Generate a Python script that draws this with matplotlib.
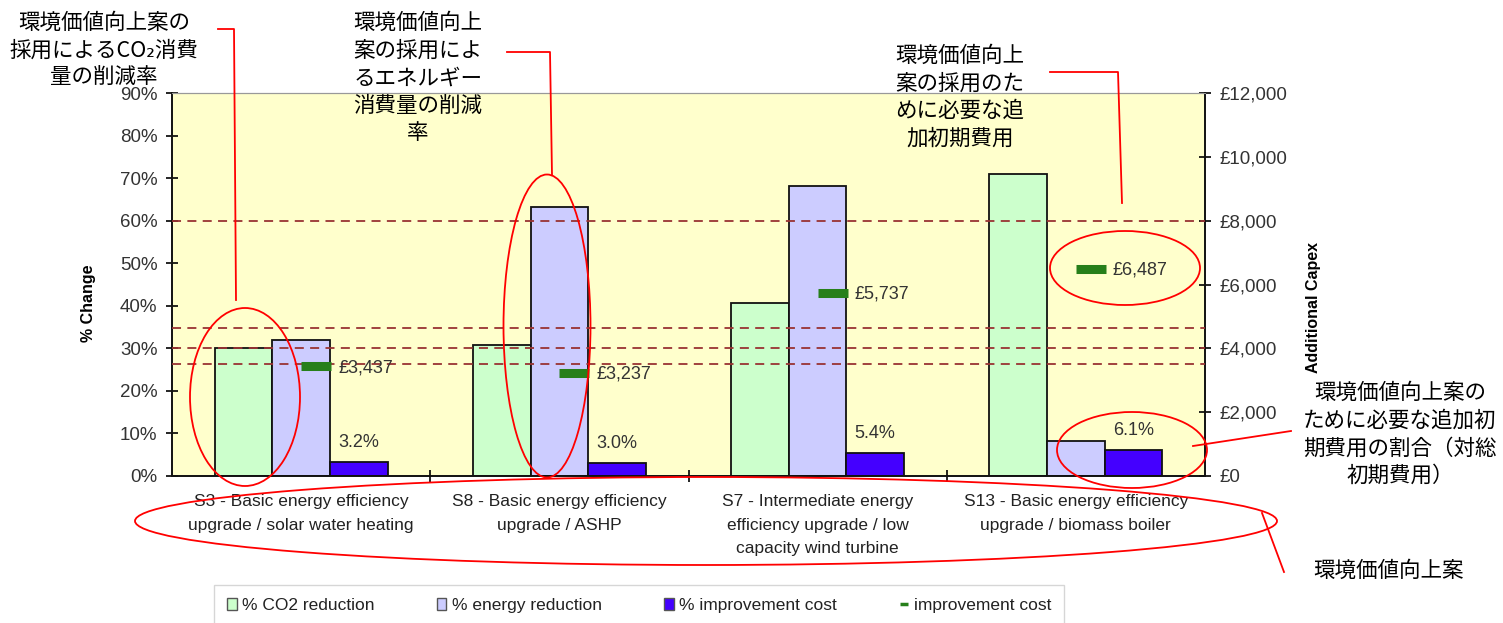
import matplotlib
matplotlib.use('Agg')
import matplotlib.pyplot as plt
from matplotlib.patches import Ellipse, Patch
from matplotlib.lines import Line2D
import numpy as np

plt.rcParams['font.family'] = ['Liberation Sans', 'Noto Sans CJK JP', 'DejaVu Sans']

categories = [
    'S3 - Basic energy efficiency\nupgrade / solar water heating',
    'S8 - Basic energy efficiency\nupgrade / ASHP',
    'S7 - Intermediate energy\nefficiency upgrade / low\ncapacity wind turbine',
    'S13 - Basic energy efficiency\nupgrade / biomass boiler',
]
co2_reduction = [30.0, 30.8, 40.6, 71.0]
energy_reduction = [32.0, 63.2, 68.1, 8.2]
cost_pct = [3.2, 3.0, 5.4, 6.1]
improvement_cost = [3437, 3237, 5737, 6487]
reference_costs = [8000, 4650, 4000, 3500]

W, H = 1503, 623
fig = plt.figure(figsize=(W / 100, H / 100), dpi=100)
ax = fig.add_axes([172 / W, 1 - 476 / H, (1205 - 172) / W, (476 - 93) / H])
ax2 = ax.twinx()

x = np.arange(len(categories))
w = 0.223
ax.set_facecolor('#FFFFCC')
ax.bar(x - w, co2_reduction, w, color='#CCFFCC', edgecolor='#111111', lw=1.3, label='% CO2 reduction')
ax.bar(x, energy_reduction, w, color='#CCCCFF', edgecolor='#111111', lw=1.3, label='% energy reduction')
ax.bar(x + w, cost_pct, w, color='#4400FF', edgecolor='#111111', lw=1.3, label='% improvement cost')

for xi, v in zip(x, cost_pct):
    ax.annotate(f'{v:.1f}%', (xi + w, v), xytext=(0, 14), textcoords='offset points',
                ha='center', va='center', fontsize=13, color='#333333')

for v in reference_costs:
    ax2.axhline(v, color='#993333', ls=(0, (5, 3.5)), lw=1.3, zorder=5)

green = '#267F1A'
ax2.plot(x + 0.058, improvement_cost, ls='none', marker='_', markersize=22, mew=6.5,
         color=green, zorder=6)
for xi, v in zip(x, improvement_cost):
    ax2.annotate(f'£{v:,}', (xi + 0.143, v), xytext=(0, -1), textcoords='offset points',
                 ha='left', va='center', fontsize=13, color='#333333', zorder=7)

ax.set_xlim(-0.5, 3.5)
ax.set_ylim(0, 90)
ax2.set_ylim(0, 12000)
ax.set_yticks(np.arange(0, 91, 10))
ax.set_yticklabels([f'{t}%' for t in range(0, 91, 10)])
ax2.set_yticks(np.arange(0, 12001, 2000))
ax2.set_yticklabels([f'£{t:,}' for t in range(0, 12001, 2000)])

ax.set_xticks(x)
ax.set_xticklabels(categories, fontsize=12.5, color='#222222', linespacing=1.72)
ax.set_xticks([0.5, 1.5, 2.5], minor=True)
ax.tick_params(axis='x', which='major', length=0, pad=13)
ax.tick_params(axis='x', which='minor', direction='inout', length=9, width=1.2)
ax.tick_params(axis='y', direction='inout', length=9, width=1.2, labelsize=13.5,
               labelcolor='#333333', pad=6)
ax2.tick_params(axis='y', direction='inout', length=9, width=1.2, labelsize=13.5,
                labelcolor='#333333', pad=6)

for a in (ax, ax2):
    a.spines['top'].set_color('#999999')
    for s in ('left', 'right', 'bottom'):
        a.spines[s].set_color('#111111')
        a.spines[s].set_linewidth(1.2)

ax.set_ylabel('% Change', fontweight='bold', fontsize=11.5)
ax.yaxis.set_label_coords(-0.0735, 0.452)
ax2.set_ylabel('Additional Capex', fontweight='bold', fontsize=11.5)
ax2.yaxis.set_label_coords(1.0975, 0.441)

handles = [
    Patch(facecolor='#CCFFCC', edgecolor='#555555'),
    Patch(facecolor='#CCCCFF', edgecolor='#555555'),
    Patch(facecolor='#4400FF', edgecolor='#555555'),
    Line2D([], [], ls='none', marker='_', markersize=6, mew=2.5, color=green),
]
labels = ['% CO2 reduction', '% energy reduction', '% improvement cost', 'improvement cost']
fig.legend(handles, labels, loc='upper left', bbox_to_anchor=(214 / W, 1 - 585 / H),
           ncol=4, fontsize=12.5, frameon=True, fancybox=False, borderaxespad=0,
           edgecolor='#cccccc', handlelength=0.55, handleheight=0.7, handletextpad=0.3,
           columnspacing=3.6, borderpad=0.75, labelcolor='#222222')


# red callouts in pixel coordinates of the figure
def fp(px, py):
    return px / W, 1 - py / H


def ring(cx, cy, ew, eh):
    fig.add_artist(Ellipse(fp(cx, cy), ew / W, eh / H, transform=fig.transFigure,
                           fill=False, edgecolor='#FF0000', lw=1.3, zorder=10))


def path(points):
    xs = [p[0] / W for p in points]
    ys = [1 - p[1] / H for p in points]
    fig.add_artist(Line2D(xs, ys, transform=fig.transFigure, color='#FF0000', lw=1.3, zorder=10))


def note(px, py, s):
    fig.text(px / W, 1 - py / H, s, ha='center', va='top', fontsize=15.5,
             family=['Noto Sans CJK JP', 'DejaVu Sans'], linespacing=1.33, zorder=11)


ring(245, 397, 110, 178)
ring(547, 326, 87, 303)
ring(1125, 268, 150, 74)
ring(1132, 450, 150, 76)
ring(706, 521, 1142, 88)

path([(218, 29), (234, 29), (236, 300)])
path([(507, 52), (550, 52), (552, 175)])
path([(1050, 72), (1118, 72), (1122, 203)])
path([(1193, 446), (1291, 431)])
path([(1262, 513), (1284, 572)])

note(104, 12, '環境価値向上案の\n採用によるCO₂消費\n量の削減率')
note(418, 12, '環境価値向上\n案の採用によ\nるエネルギー\n消費量の削減\n率')
note(960, 45, '環境価値向上\n案の採用のた\nめに必要な追\n加初期費用')
note(1400, 382, '環境価値向上案の\nために必要な追加初\n期費用の割合（対総\n初期費用）')
note(1388, 560, '環境価値向上案')

fig.savefig('out.png', dpi=100)
